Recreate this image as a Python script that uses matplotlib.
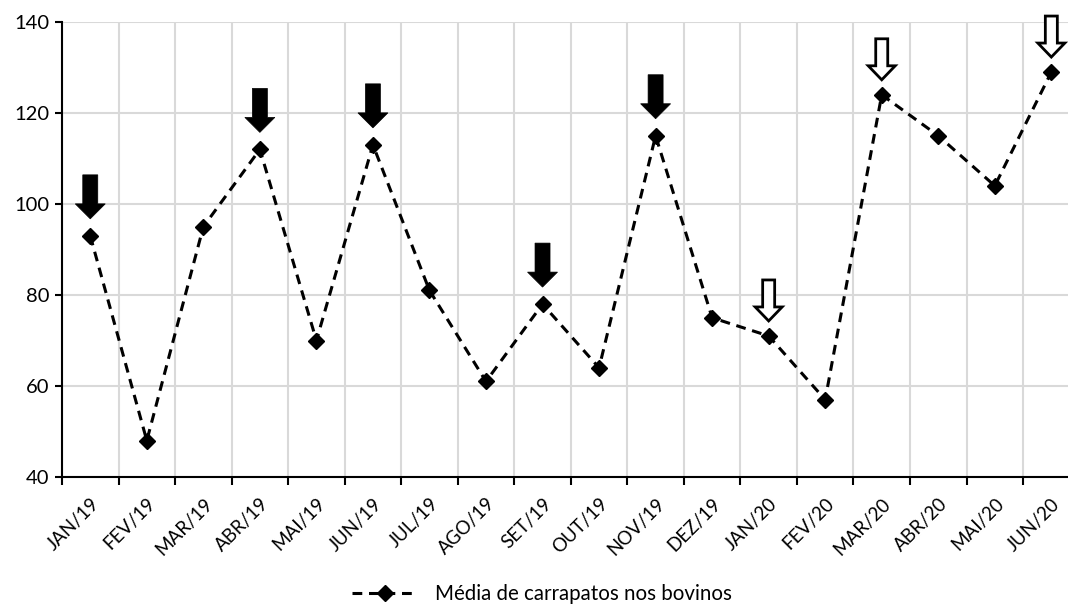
import matplotlib
matplotlib.use("Agg")
import matplotlib.pyplot as plt
import matplotlib.transforms as mtransforms
from matplotlib.patches import Polygon
from matplotlib.lines import Line2D

plt.rcParams['font.family'] = ['Lato', 'DejaVu Sans']

months = ["JAN/19", "FEV/19", "MAR/19", "ABR/19", "MAI/19", "JUN/19", "JUL/19",
          "AGO/19", "SET/19", "OUT/19", "NOV/19", "DEZ/19", "JAN/20", "FEV/20",
          "MAR/20", "ABR/20", "MAI/20", "JUN/20"]
values = [93, 48, 95, 112, 70, 113, 81, 61, 78, 64, 115, 75, 71, 57, 124, 115, 104, 129]
filled_arrows = ["JAN/19", "ABR/19", "JUN/19", "SET/19", "NOV/19"]
hollow_arrows = ["JAN/20", "MAR/20", "JUN/20"]
series_label = "Média de carrapatos nos bovinos"

W, H, DPI = 1068, 610, 100
fig = plt.figure(figsize=(W / DPI, H / DPI), dpi=DPI)
ax = fig.add_axes([62 / W, (H - 477) / H, 1017.6 / W, 455 / H])

xs = [i + 0.5 for i in range(len(months))]
ax.plot(xs, values, color='black', linestyle=(0, (3.2, 2.2)), linewidth=2.2,
        marker='D', markersize=8, markerfacecolor='black', markeredgecolor='black',
        label=series_label, zorder=3)

ax.set_xlim(0, len(months))
ax.set_ylim(40, 140)
ax.set_yticks(range(40, 141, 20))
ax.set_xticks(range(0, len(months) + 1))
ax.set_xticks(xs, minor=True)
ax.set_xticklabels([])
ax.set_xticklabels(months, minor=True, rotation=45, ha='right', rotation_mode='anchor')
ax.tick_params(axis='x', which='major', length=6, width=1.5, direction='out')
ax.tick_params(axis='x', which='minor', length=0, pad=13, labelsize=13.5)
ax.tick_params(axis='y', length=5, width=1.5, direction='out', labelsize=14.5, pad=4)

ax.grid(True, which='major', color='#d9d9d9', linewidth=1.5)
ax.set_axisbelow(True)
for side in ['top', 'right']:
    ax.spines[side].set_visible(False)
for side in ['left', 'bottom']:
    ax.spines[side].set_linewidth(1.5)
    ax.spines[side].set_color('black')

def arrow_verts(shaft_w, head_w, shaft_h, head_h, gap):
    sw, hw = shaft_w / 2, head_w / 2
    tip = gap
    base = gap + head_h
    top = base + shaft_h
    return [(0, tip), (-hw, base), (-sw, base), (-sw, top), (sw, top), (sw, base), (hw, base)]

pix = mtransforms.Affine2D().scale(1 / DPI) + fig.dpi_scale_trans

for m in filled_arrows:
    i = months.index(m)
    tr = pix + mtransforms.ScaledTranslation(xs[i], values[i], ax.transData)
    ax.add_patch(Polygon(arrow_verts(15, 30, 29, 15, 17), closed=True, facecolor='black',
                         edgecolor='black', linewidth=0.5, transform=tr, clip_on=False, zorder=4))
for m in hollow_arrows:
    i = months.index(m)
    tr = pix + mtransforms.ScaledTranslation(xs[i], values[i], ax.transData)
    ax.add_patch(Polygon(arrow_verts(12, 27, 27, 14, 15), closed=True, facecolor='white',
                         edgecolor='black', linewidth=2, transform=tr, clip_on=False, zorder=4))

handle = Line2D([], [], color='black', linestyle=(0, (3.2, 2.2)), linewidth=2.2,
                marker='D', markersize=8, markerfacecolor='black')
fig.legend([handle], [series_label], loc='center', bbox_to_anchor=(542 / W, 16 / H),
           frameon=False, fontsize=14.8, handlelength=3.2, handletextpad=0.8)

fig.savefig("out.png", dpi=DPI)
